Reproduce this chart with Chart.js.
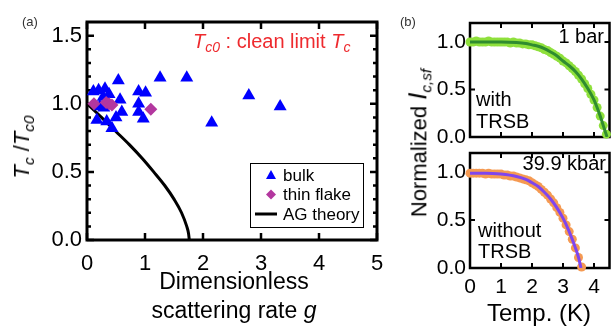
<!DOCTYPE html>
<html>
<head>
<meta charset="utf-8">
<script src="https://cdn.jsdelivr.net/npm/chart.js@4.4.0/dist/chart.umd.min.js"></script>
<style>
  html, body { margin: 0; padding: 0; background: #fff; }
  #wrap { position: relative; width: 614px; height: 327px; overflow: hidden;
          font-family: 'Liberation Sans', Arial, sans-serif; color: #000; }
  #wrap canvas { position: absolute; left: 0; top: 0; }
  .lbl { position: absolute; white-space: nowrap; line-height: 1; }
  .lbl sub { font-size: 0.7em; vertical-align: -0.3em; line-height: 0; }
  .rot { transform: translate(-50%, -50%) rotate(-90deg); }
  .ctr { transform: translateX(-50%); text-align: center; }
</style>
</head>
<body>
<div id="wrap">
  <canvas id="chart-a" width="614" height="327"></canvas>
  <canvas id="chart-b1" width="614" height="327"></canvas>
  <canvas id="chart-b2" width="614" height="327"></canvas>

  <div class="lbl" style="left:22px;top:15px;font-size:13px;color:#333;">(a)</div>
  <div class="lbl" style="left:400px;top:15px;font-size:13px;color:#333;">(b)</div>

  <div class="lbl" style="left:193px;top:31px;font-size:20px;color:#ee2a2e;"><i>T</i><sub><i>c0</i></sub> : clean limit <i>T</i><sub><i>c</i></sub></div>
  <div class="lbl rot" style="left:22px;top:147px;font-size:22px;"><i>T</i><sub><i>c</i></sub> /<i>T</i><sub><i>c0</i></sub></div>
  <div class="lbl ctr" style="left:234px;top:270px;font-size:23px;">Dimensionless</div>
  <div class="lbl ctr" style="left:234px;top:299px;font-size:23px;">scattering rate <i>g</i></div>

  <div class="lbl rot" style="left:418px;top:143px;font-size:22px;">Normalized <i style="font-size:1.15em;">I</i><sub><i>c,sf</i></sub></div>
  <div class="lbl" style="right:10px;top:26px;font-size:20px;">1 bar</div>
  <div class="lbl" style="left:476px;top:89px;font-size:20px;">with</div>
  <div class="lbl" style="left:476px;top:111px;font-size:20px;">TRSB</div>
  <div class="lbl" style="right:8px;top:153px;font-size:20px;">39.9 kbar</div>
  <div class="lbl" style="left:478px;top:220px;font-size:20px;">without</div>
  <div class="lbl" style="left:478px;top:241px;font-size:20px;">TRSB</div>
  <div class="lbl ctr" style="left:539px;top:301px;font-size:24px;">Temp. (K)</div>
</div>

<script>
'use strict';

/* ── Panel (a): Tc/Tc0 vs dimensionless scattering rate g ── */
const gBulk  = [0.11, 0.20, 0.31, 0.38, 0.54, 0.28, 0.57, 0.60, 0.17, 0.43, 0.50, 0.34,
                0.89, 1.01, 0.89, 0.89, 0.97, 1.26, 1.72, 2.79, 3.33, 2.15, 0.22, 0.29];
const tcBulk = [1.09, 1.10, 1.11, 1.07, 1.17, 1.05, 1.03, 0.94, 0.88, 0.82, 0.90, 0.87,
                1.09, 1.08, 1.00, 0.94, 0.89, 1.19, 1.19, 1.06, 0.98, 0.86, 0.98, 0.97];

const gFlake  = [0.12, 0.33, 0.38, 0.43, 1.10];
const tcFlake = [1.00, 1.01, 1.00, 0.99, 0.96];

const gAG  = [0, 0.25, 0.49, 0.73, 0.95, 1.15, 1.34, 1.50, 1.63, 1.72, 1.75, 1.764];
const tcAG = [1.0, 0.9, 0.8, 0.7, 0.6, 0.5, 0.4, 0.3, 0.2, 0.1, 0.05, 0];

const aXTicks = [0, 1, 2, 3, 4, 5];
const aYTicks = [0, 0.5, 1.0, 1.5];

/* ── Panel (b): normalized Ic,sf vs temperature (K) ── */
// 1 bar (with TRSB)
const tLow  = [0.0, 0.1, 0.2, 0.3, 0.4, 0.5, 0.6, 0.7, 0.8, 0.9,
               1.0, 1.1, 1.2, 1.3, 1.4, 1.5, 1.6, 1.7, 1.8, 1.9,
               2.0, 2.1, 2.2, 2.3, 2.4, 2.5, 2.6, 2.7, 2.8, 2.9,
               3.0, 3.1, 3.2, 3.3, 3.4, 3.5, 3.6, 3.7, 3.8, 3.9,
               4.0, 4.1, 4.2, 4.3, 4.4];
const icLow = [1.00, 1.00, 1.01, 1.00, 1.00, 1.00, 1.01, 1.00, 1.00, 1.00,
               1.00, 1.00, 1.00, 0.99, 1.00, 0.99, 0.99, 0.98, 0.98, 0.97,
               0.97, 0.96, 0.95, 0.94, 0.92, 0.91, 0.89, 0.87, 0.85, 0.83,
               0.80, 0.78, 0.75, 0.72, 0.69, 0.65, 0.61, 0.56, 0.51, 0.45,
               0.39, 0.31, 0.22, 0.12, 0.03];
const tLowFit  = [0, 0.5, 1.0, 1.5, 1.8, 2.0, 2.2, 2.4, 2.6, 2.8, 3.0, 3.2, 3.4, 3.6, 3.8, 4.0, 4.1, 4.2, 4.3, 4.42];
const icLowFit = [1, 1, 1, 0.995, 0.985, 0.97, 0.955, 0.93, 0.895, 0.855, 0.80, 0.75, 0.69, 0.61, 0.51, 0.39, 0.31, 0.22, 0.12, 0];

// 39.9 kbar (without TRSB)
const tHigh  = [0.0, 0.1, 0.2, 0.3, 0.4, 0.5, 0.6, 0.7, 0.8, 0.9,
                1.0, 1.1, 1.2, 1.3, 1.4, 1.5, 1.6, 1.7, 1.8, 1.9,
                2.0, 2.1, 2.2, 2.3, 2.4, 2.5, 2.6, 2.7, 2.8, 2.9,
                3.0, 3.1, 3.2, 3.3, 3.4, 3.5, 3.6];
const icHigh = [0.99, 0.99, 0.99, 0.99, 0.99, 0.98, 0.99, 0.98, 0.98, 0.98,
                0.98, 0.97, 0.97, 0.96, 0.96, 0.95, 0.94, 0.93, 0.92, 0.91,
                0.89, 0.87, 0.85, 0.82, 0.79, 0.76, 0.72, 0.68, 0.63, 0.58,
                0.52, 0.45, 0.38, 0.30, 0.21, 0.11, 0.01];
const tHighFit  = [0, 0.5, 1.0, 1.5, 1.8, 2.0, 2.2, 2.4, 2.6, 2.8, 3.0, 3.2, 3.4, 3.5, 3.58];
const icHighFit = [0.99, 0.99, 0.98, 0.955, 0.925, 0.89, 0.85, 0.79, 0.72, 0.63, 0.52, 0.38, 0.21, 0.11, 0];

const bXTicks = [0, 1, 2, 3, 4];
const bYTicks = [0, 0.5, 1.0];

/* ── helpers ── */
const FONT = "'Liberation Sans', Arial, sans-serif";
Chart.defaults.font.family = FONT;
Chart.defaults.color = '#000';

const xy = (xs, ys) => xs.map((x, i) => ({ x, y: ys[i] }));
const asTicks = list => s => { s.ticks = list.map(v => ({ value: v })); };

// minor ticks every 0.1 on panel (a) y axis
const aYMinor = [];
for (let i = 1; i < 16; i++) if (i % 5) aYMinor.push(i / 10);

/* frame with inward ticks on all four sides */
const framePlugin = {
  id: 'frame',
  beforeDatasetsDraw(chart, args, o) {
    const { ctx, chartArea: a, scales: { x, y } } = chart;
    ctx.save();
    ctx.strokeStyle = '#000';
    ctx.lineWidth = o.width;
    ctx.strokeRect(a.left, a.top, a.right - a.left, a.bottom - a.top);
    ctx.beginPath();
    const seg = (x1, y1, x2, y2) => { ctx.moveTo(x1, y1); ctx.lineTo(x2, y2); };
    o.xMajor.forEach(v => {
      const p = x.getPixelForValue(v);
      seg(p, a.bottom, p, a.bottom - o.major);
      seg(p, a.top, p, a.top + o.major);
    });
    o.yMajor.forEach(v => {
      const p = y.getPixelForValue(v);
      seg(a.left, p, a.left + o.major, p);
      seg(a.right, p, a.right - o.major, p);
    });
    (o.yMinor || []).forEach(v => {
      const p = y.getPixelForValue(v);
      seg(a.left, p, a.left + o.minor, p);
      seg(a.right, p, a.right - o.minor, p);
    });
    ctx.lineWidth = o.tickWidth;
    ctx.stroke();
    ctx.restore();
  }
};

/* boxed legend in the lower right of panel (a) */
const boxLegend = {
  id: 'boxLegend',
  afterDraw(chart, args, o) {
    const { ctx, chartArea: a } = chart;
    const right = a.right - 14, bottom = a.bottom - 13;
    const w = 113, h = 64, left = right - w, top = bottom - h;
    ctx.save();
    ctx.fillStyle = '#fff';
    ctx.fillRect(left, top, w, h);
    ctx.strokeStyle = '#000';
    ctx.lineWidth = 1;
    ctx.strokeRect(left + 0.5, top + 0.5, w, h);
    ctx.font = `17px ${FONT}`;
    ctx.textBaseline = 'middle';
    chart.data.datasets.forEach((ds, i) => {
      const cy = top + 12 + i * 19.5, cx = left + 21;
      ctx.fillStyle = ds.backgroundColor;
      ctx.beginPath();
      if (ds.pointStyle === 'triangle') {
        ctx.moveTo(cx, cy - 5); ctx.lineTo(cx + 5, cy + 4); ctx.lineTo(cx - 5, cy + 4); ctx.closePath(); ctx.fill();
      } else if (ds.pointStyle === 'rectRot') {
        ctx.moveTo(cx, cy - 5); ctx.lineTo(cx + 5, cy); ctx.lineTo(cx, cy + 5); ctx.lineTo(cx - 5, cy); ctx.closePath(); ctx.fill();
      } else {
        ctx.strokeStyle = ds.borderColor; ctx.lineWidth = 3;
        ctx.moveTo(cx - 16, cy); ctx.lineTo(cx + 6, cy); ctx.stroke();
      }
      ctx.fillStyle = '#000';
      ctx.fillText(ds.label, left + 33, cy + 1);
    });
    ctx.restore();
  }
};

function linAxis(min, max, ticks, size, pad, fix, fmt, showLabels) {
  return {
    type: 'linear', min, max,
    grid: { display: false, drawTicks: false },
    border: { display: false },
    ticks: { display: showLabels, font: { size }, color: '#000', padding: pad,
             maxRotation: 0, includeBounds: false, callback: fmt },
    afterBuildTicks: asTicks(ticks),
    afterFit: s => {
      if (s.isHorizontal()) s.height = fix; else s.width = fix;
      s.paddingLeft = s.paddingRight = s.paddingTop = s.paddingBottom = 0;
    }
  };
}

const intFmt = v => String(v);
const decFmt = v => v.toFixed(1);

/* ── Panel (a) ── */
new Chart(document.getElementById('chart-a'), {
  type: 'scatter',
  data: {
    datasets: [
      { label: 'bulk', data: xy(gBulk, tcBulk), pointStyle: 'triangle', pointRadius: 7.5,
        backgroundColor: '#0000ff', borderWidth: 0, order: 1 },
      { label: 'thin flake', data: xy(gFlake, tcFlake), pointStyle: 'rectRot', pointRadius: 6.5,
        backgroundColor: '#b3379f', borderWidth: 0, order: 0 },
      { label: 'AG theory', data: xy(gAG, tcAG), showLine: true, pointRadius: 0,
        borderColor: '#000', backgroundColor: '#000', borderWidth: 3,
        cubicInterpolationMode: 'monotone', order: 2 }
    ]
  },
  options: {
    responsive: false, animation: false, devicePixelRatio: 1,
    layout: { padding: { left: 27, right: 237, top: 22, bottom: 47 } },
    scales: {
      x: linAxis(0, 5, aXTicks, 22, 11, 40, intFmt, true),
      y: linAxis(0, 1.6, aYTicks, 22, 5, 60, decFmt, true)
    },
    plugins: {
      legend: { display: false }, tooltip: { enabled: false },
      frame: { width: 3, tickWidth: 2.5, major: 7, minor: 4, xMajor: aXTicks, yMajor: aYTicks, yMinor: aYMinor }
    }
  },
  plugins: [framePlugin, boxLegend]
});

/* ── Panel (b), top and bottom ── */
function ivPanel(id, pts, fit, dotColor, lineColor, top, bottom, showX) {
  return new Chart(document.getElementById(id), {
    type: 'scatter',
    data: {
      datasets: [
        { label: 'fit', data: fit, showLine: true, pointRadius: 0, borderColor: lineColor,
          borderWidth: 3, cubicInterpolationMode: 'monotone', order: 0 },
        { label: 'data', data: pts, pointRadius: 4.5, backgroundColor: dotColor,
          borderWidth: 0, clip: false, order: 1 }
      ]
    },
    options: {
      responsive: false, animation: false, devicePixelRatio: 1,
      layout: { padding: { left: 420, right: 1, top, bottom } },
      scales: {
        x: linAxis(0, 4.5, bXTicks, 21, 7, showX ? 40 : 0, intFmt, showX),
        y: linAxis(0, 1.2, bYTicks, 21, 4, 50, decFmt, true)
      },
      plugins: {
        legend: { display: false }, tooltip: { enabled: false },
        frame: { width: 2.5, tickWidth: 2, major: 5, xMajor: bXTicks, yMajor: bYTicks }
      }
    },
    plugins: [framePlugin]
  });
}

ivPanel('chart-b1', xy(tLow, icLow), xy(tLowFit, icLowFit), '#8fe03c', '#2f8c2f', 23, 190, false);
ivPanel('chart-b2', xy(tHigh, icHigh), xy(tHighFit, icHighFit), '#f59a52', '#7f45ee', 153, 19, true);
</script>
</body>
</html>
